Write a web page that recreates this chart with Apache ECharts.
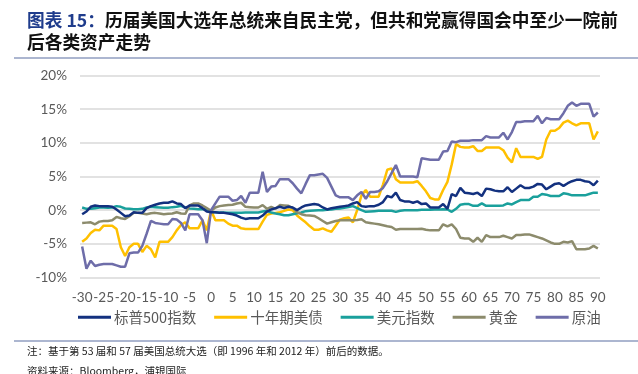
<!DOCTYPE html>
<html>
<head>
<meta charset="utf-8">
<script src="https://cdn.jsdelivr.net/npm/echarts@6/dist/echarts.min.js"></script>
<style>
html,body{margin:0;padding:0;background:#fff;}
#c{width:638px;height:374px;}
</style>
</head>
<body>
<div id="c"></div>
<script>
// Days relative to election day (-30 .. 90)
const days = [];
for (let d = -30; d <= 90; d++) days.push(String(d));

const seriesNames = ['标普500指数', '十年期美债', '美元指数', '黄金', '原油'];

const sp500 = [
-0.6,-0.2,0.5,0.7,0.6,0.6,0.6,0.5,0.1,-0.4,-0.9,-0.8,-0.3,-0.4,-0.4,0.3,0.6,0.8,1.0,1.1,1.1,1.3,1.0,0.9,0.3,0.7,0.7,0.7,0.3,-0.2,
-0.3,-0.3,-0.4,-0.4,-0.5,-0.6,-0.8,-1.1,-1.3,-1.2,-1.2,-1.2,-0.8,-0.2,0.1,0.3,0.5,0.3,0.5,0.4,0.0,0.4,0.7,0.8,0.9,0.8,0.4,0.1,0.3,0.4,
0.5,0.6,0.7,1.0,1.2,0.6,0.5,0.6,0.6,0.8,1.2,2.1,1.9,2.6,1.5,1.3,1.3,1.1,1.3,0.9,1.0,0.4,0.4,0.4,0.9,0.2,2.4,2.1,3.3,2.6,
2.5,2.4,2.6,2.1,3.2,3.1,2.9,2.8,2.8,3.4,2.7,3.2,3.7,3.3,3.3,3.5,3.9,3.8,3.1,3.5,3.9,4.0,3.6,4.0,4.3,4.5,4.5,4.3,4.2,3.7,4.4];

const treasury10y = [
-4.7,-4.2,-3.4,-2.9,-3.0,-2.3,-2.3,-2.3,-2.8,-5.5,-6.8,-5.5,-5.0,-5.0,-6.2,-5.3,-5.8,-7.0,-4.7,-4.7,-4.7,-4.0,-3.0,-2.2,-1.8,-2.7,-2.7,-2.7,-1.5,-3.0,
0.0,-1.5,-1.5,-1.5,-2.0,-2.3,-2.3,-2.7,-2.8,-2.8,-2.8,-2.8,-1.7,-0.7,-0.5,-0.4,-0.3,-0.1,0.1,0.0,-0.8,-1.3,-1.8,-2.4,-2.9,-2.9,-2.7,-3.0,-3.2,-2.3,
-1.4,-1.2,-1.1,-1.8,0.0,2.2,3.0,2.0,2.0,2.0,3.8,6.0,6.2,4.6,4.1,4.1,4.1,4.1,4.3,3.6,2.8,1.8,1.6,1.6,3.0,4.2,6.8,9.8,9.4,9.3,
9.3,9.5,8.8,8.8,9.3,9.3,9.3,9.3,8.9,7.8,7.1,9.2,7.9,7.9,7.9,7.9,7.6,7.9,10.5,11.8,11.8,12.2,13.0,13.3,12.9,12.6,12.9,12.9,12.9,10.5,11.7];

const dollarIndex = [
0.4,0.2,0.2,0.3,0.4,0.4,0.35,0.4,0.6,0.5,0.25,0.2,0.15,0.15,0.2,0.4,0.5,0.45,0.4,0.35,0.35,0.45,0.5,0.65,0.4,0.25,0.2,0.15,0.15,0.15,
-0.25,-0.3,-0.35,-0.35,-0.4,-0.4,-0.4,-0.4,-0.35,-0.35,-0.35,-0.35,-0.2,-0.1,-0.35,-0.5,-0.6,-0.75,-0.75,-0.6,-0.45,-0.35,-0.15,-0.1,-0.05,0.0,0.0,0.05,0.1,0.2,
0.25,0.35,0.45,0.6,0.3,0.0,-0.25,-0.2,-0.15,-0.1,-0.1,-0.1,-0.1,-0.25,-0.1,0.0,0.0,0.0,0.0,0.05,0.05,0.05,0.1,0.1,0.15,0.1,-0.25,0.2,0.8,0.9,
0.9,0.65,0.65,1.0,0.65,0.65,0.65,0.65,0.7,1.0,0.85,1.2,1.5,1.5,1.5,2.0,2.0,2.4,2.3,2.1,2.1,2.1,2.5,2.4,2.2,2.2,2.2,2.2,2.4,2.6,2.6];

const gold = [
-1.9,-1.85,-1.8,-2.1,-1.7,-1.6,-1.6,-1.5,-1.0,-1.2,-1.3,-0.9,-0.4,-0.4,-0.5,-0.6,-0.45,-0.4,-0.5,-0.6,-0.55,-0.5,-0.3,-0.5,-0.55,0.7,1.0,1.0,0.7,0.3,
-0.1,0.4,0.6,0.7,0.75,0.8,1.0,1.1,0.5,0.45,0.4,0.4,0.75,0.2,0.5,0.2,0.75,0.7,0.65,0.3,-0.3,-0.6,-0.75,-0.8,-0.85,-1.2,-1.6,-2.0,-1.8,-1.6,
-1.5,-1.5,-1.5,-1.5,-1.45,-1.35,-1.8,-1.9,-2.0,-2.1,-2.25,-2.4,-2.5,-2.9,-2.8,-2.8,-2.8,-2.8,-2.8,-2.75,-2.9,-3.0,-3.0,-3.0,-2.1,-2.4,-2.1,-2.8,-4.1,-4.2,
-4.2,-4.7,-4.1,-4.7,-3.7,-4.0,-4.0,-4.0,-3.8,-4.0,-4.2,-3.7,-3.7,-3.6,-3.6,-3.8,-4.0,-4.2,-4.5,-4.8,-5.0,-5.0,-4.7,-4.8,-4.6,-5.8,-5.8,-5.8,-5.7,-5.3,-5.7];

const crudeOil = [
-5.4,-8.7,-7.5,-8.3,-8.1,-8.0,-8.0,-8.0,-8.2,-8.4,-8.4,-6.4,-6.3,-6.3,-5.3,-3.5,-1.6,-1.9,-2.0,-2.1,-2.1,-1.3,-1.4,-1.9,-3.0,-0.6,-0.6,-0.6,-1.5,-4.9,
0.0,1.0,2.0,2.0,2.0,1.4,1.5,2.1,1.1,2.6,2.6,2.6,5.7,2.7,3.5,3.6,4.6,4.6,4.6,4.0,3.2,2.5,3.9,5.2,5.2,5.3,5.4,4.8,3.5,2.2,
1.9,1.9,1.9,1.5,2.2,2.7,1.7,2.7,2.7,2.8,3.3,4.3,5.5,6.7,5.0,5.0,5.0,5.0,4.9,7.7,7.6,7.5,7.5,7.5,8.7,8.8,10.2,10.1,10.3,10.3,
10.3,10.4,10.4,10.4,11.0,10.8,10.8,10.8,11.5,10.5,11.6,13.1,13.1,13.2,13.2,13.2,14.0,12.9,13.7,13.5,13.5,13.5,14.4,15.5,16.0,15.5,15.8,15.8,15.8,13.9,14.5];

const electionMarker = -0.6; // position of the red dashed election-day line
const yTicks = {min: -10, max: 20, interval: 5};

const colors = ['#13317F', '#FFC000', '#1AA09C', '#8C8B6C', '#6E6DA9'];
const values = [sp500, treasury10y, dollarIndex, gold, crudeOil];

const chart = echarts.init(document.getElementById('c'), null, {renderer: 'canvas'});

const series = seriesNames.map((n, i) => ({
  name: n,
  type: 'line',
  data: values[i],
  symbol: 'none',
  smooth: false,
  lineStyle: {width: 2.5, color: colors[i]},
  itemStyle: {color: colors[i]},
  z: 3 + (i === 0 ? 1 : 0),
  animation: false
}));

series.push({
  type: 'line',
  xAxisIndex: 1,
  data: [],
  clip: false,
  silent: true,
  animation: false,
  markLine: {
    symbol: 'none',
    silent: true,
    label: {show: false},
    lineStyle: {color: '#E00000', type: [3, 2], width: 1},
    data: [[{coord: [electionMarker, 21.1]}, {coord: [electionMarker, -10]}]]
  }
});

const cjk = '"Noto Sans CJK SC", sans-serif';

chart.setOption({
  animation: false,
  backgroundColor: '#fff',
  textStyle: {fontFamily: 'Lato, "Noto Sans CJK SC", sans-serif'},
  grid: {left: 80, right: 38, top: 75.5, bottom: 96.5, containLabel: false},
  legend: {
    data: seriesNames,
    left: 73,
    top: 305,
    icon: 'rect',
    itemWidth: 33,
    itemHeight: 3,
    itemGap: 18,
    textStyle: {fontSize: 14.5, color: '#595959', fontFamily: cjk, padding: [0, 0, 0, -2]}
  },
  xAxis: [{
    type: 'category',
    data: days,
    boundaryGap: true,
    axisLine: {show: false},
    axisTick: {show: false},
    splitLine: {show: false},
    axisLabel: {interval: 4, color: '#595959', fontSize: 13.5, margin: 13, fontFamily: 'Lato, sans-serif'}
  }, {
    type: 'value',
    min: -30.5,
    max: 90.5,
    show: false
  }],
  yAxis: {
    type: 'value',
    min: yTicks.min,
    max: yTicks.max,
    interval: yTicks.interval,
    axisLine: {show: false},
    axisTick: {show: false},
    splitLine: {lineStyle: {color: '#D9D9D9', width: 1.5}},
    axisLabel: {formatter: '{value}%', color: '#595959', fontSize: 13.5, margin: 13, fontFamily: 'Lato, sans-serif'}
  },
  series: series,
  graphic: [
    {type: 'text', left: 27, top: 11, style: {
      text: '{a|图表 15：}{b|历届美国大选年总统来自民主党，但共和党赢得国会中至少一院前}',
      rich: {
        a: {fontSize: 17.7, fontWeight: 'bold', fill: '#1F3C8C', fontFamily: cjk},
        b: {fontSize: 17.7, fontWeight: 'bold', fill: '#111', fontFamily: cjk}
      }
    }},
    {type: 'text', left: 27, top: 33, style: {
      text: '后各类资产走势', fontSize: 17.7, fontWeight: 'bold', fill: '#111', fontFamily: cjk
    }},
    {type: 'line', shape: {x1: 14, y1: 58, x2: 638, y2: 58}, style: {stroke: '#5A6EA2', lineWidth: 1.2}},
    {type: 'line', shape: {x1: 14, y1: 341, x2: 638, y2: 341}, style: {stroke: '#5A6EA2', lineWidth: 1.2}},
    {type: 'text', left: 27, top: 346, style: {
      text: '注：基于第 53 届和 57 届美国总统大选（即 1996 年和 2012 年）前后的数据。', fontSize: 10.5, fill: '#222', fontFamily: cjk
    }},
    {type: 'text', left: 27, top: 366, style: {
      text: '资料来源：Bloomberg，浦银国际', fontSize: 10.5, fill: '#222', fontFamily: cjk
    }}
  ]
});
</script>
</body>
</html>
